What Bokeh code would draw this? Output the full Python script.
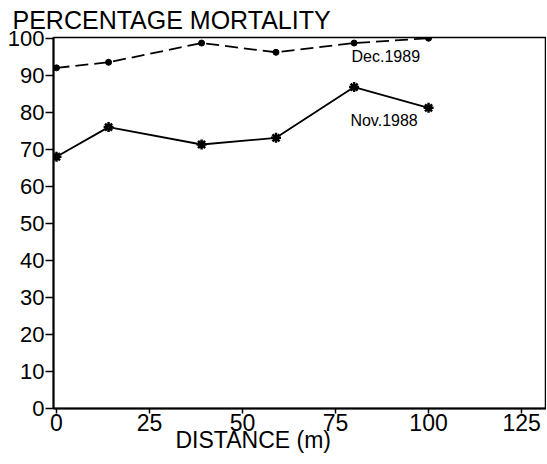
from bokeh.plotting import figure
from bokeh.models import Range1d, FixedTicker, Label, Title
from bokeh.embed import file_html
from bokeh.resources import INLINE

distance = [0, 14, 39, 59, 80, 100]
dec_1989 = [92.0, 93.5, 98.7, 96.2, 98.7, 100.0]
nov_1988 = [68.0, 76.0, 71.3, 73.1, 86.8, 81.2]
x_ticks = [0, 25, 50, 75, 100, 125]
y_ticks = [0, 10, 20, 30, 40, 50, 60, 70, 80, 90, 100]
title_text = "PERCENTAGE MORTALITY"
x_label = "DISTANCE (m)"
dec_label = "Dec.1989"
nov_label = "Nov.1988"

FONT = "Liberation Sans"

p = figure(width=546, height=462, output_backend="svg", toolbar_location=None,
           x_range=Range1d(-0.8, 131.7), y_range=Range1d(0, 100.2),
           min_border_left=53, min_border_top=36, min_border_right=0,
           min_border_bottom=54)
p.title.text = title_text
p.title.align = "left"
p.title.offset = -41
p.title.standoff = 7
p.title.text_font = FONT
p.title.text_font_size = "25px"
p.title.text_font_style = "normal"
p.title.text_color = "black"

p.grid.visible = False
p.background_fill_color = "white"
p.border_fill_color = "white"
p.outline_line_color = "black"
p.outline_line_width = 1.5

for ax in (p.xaxis[0], p.yaxis[0]):
    ax.axis_line_color = "black"
    ax.axis_line_width = 2
    ax.major_tick_line_color = "black"
    ax.major_tick_line_width = 1.5
    ax.minor_tick_line_color = None
    ax.major_tick_in = 0
    ax.major_label_text_font = FONT
    ax.major_label_text_color = "black"

p.xaxis.ticker = FixedTicker(ticks=x_ticks)
p.yaxis.ticker = FixedTicker(ticks=y_ticks)
p.xaxis.major_tick_out = 5
p.yaxis.major_tick_out = 8
p.xaxis.major_label_standoff = 0
p.yaxis.major_label_standoff = 1
p.xaxis.major_label_text_font_size = "23px"
p.yaxis.major_label_text_font_size = "22px"

# x-axis label as a title placed below the axis
p.add_layout(Title(text=x_label, align="left", offset=122, standoff=-17,
                   text_font=FONT, text_font_size="23px", text_font_style="normal",
                   text_color="black"), "below")

# Dec. 1989 dashed with dots
p.line(distance, dec_1989, line_color="black", line_width=1.8, line_dash="13 6")
p.scatter(distance, dec_1989, marker="circle", size=6, fill_color="black", line_color="black")

# Nov. 1988 solid with asterisks
p.line(distance, nov_1988, line_color="black", line_width=1.8)
p.scatter(distance, nov_1988, marker="asterisk", size=10, line_color="black", line_width=2.5)
p.scatter(distance, nov_1988, marker="circle", size=4, fill_color="black", line_color="black")

p.add_layout(Label(x=79.3, y=95.2, text=dec_label, text_font=FONT, text_font_size="16px",
                   text_color="black", text_baseline="alphabetic"))
p.add_layout(Label(x=79.0, y=77.7, text=nov_label, text_font=FONT, text_font_size="16px",
                   text_color="black", text_baseline="alphabetic"))

open("out.html", "w").write(file_html(p, INLINE))
